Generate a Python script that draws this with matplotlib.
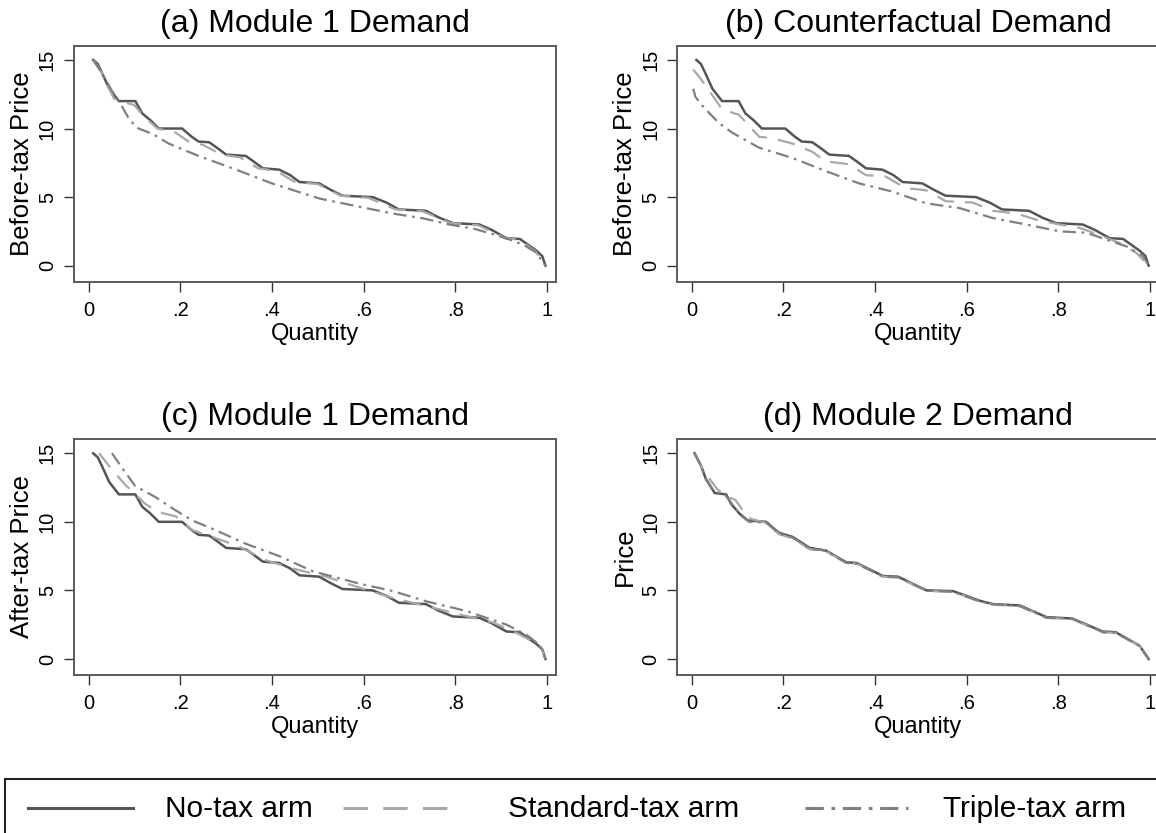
import matplotlib.pyplot as plt
from matplotlib.lines import Line2D
from matplotlib.patches import Rectangle

plt.rcParams['font.family'] = ['Liberation Sans', 'DejaVu Sans']

# quantity / price points
# module 1, no-tax arm (same in panels a, b, c)
q_none = [0.01, 0.02, 0.03, 0.045, 0.066, 0.102, 0.117, 0.135, 0.153, 0.204, 0.225, 0.24, 0.263, 0.28,
          0.30, 0.343, 0.36, 0.38, 0.416, 0.44, 0.46, 0.503, 0.53, 0.554, 0.62, 0.65, 0.677, 0.736,
          0.765, 0.795, 0.853, 0.88, 0.912, 0.941, 0.96, 0.977, 0.99, 0.997]
p_none = [15, 14.7, 14.0, 12.9, 12.0, 12.0, 11.1, 10.6, 10.0, 10.0, 9.4, 9.05, 9.0, 8.6,
          8.1, 8.0, 7.6, 7.1, 7.0, 6.6, 6.1, 6.0, 5.5, 5.1, 5.0, 4.6, 4.1, 4.0,
          3.5, 3.1, 3.0, 2.6, 2.0, 1.95, 1.5, 1.1, 0.7, 0.0]

# (a) module 1, before-tax price
q_a_std = [0.01, 0.03, 0.045, 0.055, 0.07, 0.10, 0.12, 0.15, 0.19, 0.22, 0.25, 0.29, 0.33, 0.37,
           0.41, 0.45, 0.50, 0.55, 0.61, 0.67, 0.73, 0.79, 0.85, 0.91, 0.94, 0.975, 0.997]
p_a_std = [15, 14.0, 12.9, 12.2, 12.0, 11.7, 10.9, 10.0, 9.7, 9.0, 8.8, 8.1, 7.9, 7.1,
           6.9, 6.1, 5.95, 5.1, 4.95, 4.1, 3.95, 3.1, 2.95, 2.0, 1.9, 1.05, 0.0]
q_a_tri = [0.01, 0.03, 0.05, 0.073, 0.09, 0.109, 0.14, 0.175, 0.24, 0.314, 0.40, 0.503, 0.59,
           0.664, 0.73, 0.787, 0.84, 0.882, 0.919, 0.95, 0.975, 0.997]
p_a_tri = [15, 14.0, 12.8, 11.6, 10.6, 10.0, 9.6, 8.9, 8.0, 7.1, 6.0, 4.9, 4.3,
           3.8, 3.45, 3.0, 2.7, 2.3, 1.9, 1.5, 1.0, 0.0]

# (b) counterfactual demand
q_b_std = [0.003, 0.02, 0.037, 0.066, 0.103, 0.125, 0.147, 0.175, 0.22, 0.263, 0.292, 0.343, 0.38,
           0.423, 0.467, 0.511, 0.554, 0.613, 0.657, 0.708, 0.752, 0.803, 0.847, 0.876, 0.934, 0.97, 0.997]
p_b_std = [14.3, 13.6, 12.8, 11.4, 11.0, 10.2, 9.4, 9.3, 8.9, 8.3, 7.6, 7.4, 6.6,
           6.5, 5.65, 5.5, 4.7, 4.6, 4.0, 3.8, 3.35, 3.0, 2.75, 2.4, 1.65, 0.93, 0.0]
q_b_tri = [0.003, 0.008, 0.022, 0.059, 0.088, 0.147, 0.22, 0.292, 0.365, 0.438, 0.511, 0.584,
           0.657, 0.73, 0.803, 0.861, 0.905, 0.949, 0.985, 0.997]
p_b_tri = [12.9, 12.3, 11.7, 10.4, 9.7, 8.6, 7.85, 6.9, 6.0, 5.4, 4.55, 4.2,
           3.47, 3.0, 2.5, 2.4, 1.9, 1.4, 0.68, 0.0]

# (c) module 1, after-tax price
q_c_std = [0.023, 0.051, 0.08, 0.124, 0.153, 0.19, 0.226, 0.27, 0.328, 0.387, 0.445, 0.518, 0.605,
           0.664, 0.737, 0.81, 0.883, 0.94, 0.985, 0.997]
p_c_std = [15, 13.8, 12.7, 11.3, 10.7, 10.4, 9.4, 8.9, 8.2, 7.2, 6.6, 6.0, 5.05,
           4.45, 3.85, 3.25, 2.65, 1.8, 0.97, 0.0]
q_c_tri = [0.051, 0.08, 0.102, 0.146, 0.182, 0.226, 0.27, 0.343, 0.416, 0.489, 0.59, 0.664,
           0.737, 0.824, 0.912, 0.956, 0.985, 0.997]
p_c_tri = [15, 13.6, 12.6, 11.8, 11.0, 10.1, 9.5, 8.4, 7.5, 6.4, 5.5, 4.95,
           4.2, 3.5, 2.5, 1.75, 1.0, 0.0]

# (d) module 2 demand
q_d_none = [0.006, 0.02, 0.031, 0.05, 0.075, 0.086, 0.104, 0.122, 0.162, 0.19, 0.22, 0.257, 0.293,
            0.337, 0.36, 0.417, 0.45, 0.512, 0.57, 0.628, 0.657, 0.716, 0.774, 0.83, 0.897, 0.925,
            0.977, 0.997]
p_d_none = [15, 14.1, 13.1, 12.1, 12.0, 11.3, 10.6, 10.1, 10.0, 9.2, 8.9, 8.1, 7.9,
            7.05, 7.0, 6.05, 6.0, 5.0, 4.95, 4.25, 4.0, 3.9, 3.05, 2.95, 2.0, 1.95,
            0.97, 0.0]
q_d_std = [0.006, 0.022, 0.035, 0.055, 0.08, 0.095, 0.11, 0.13, 0.165, 0.19, 0.22, 0.257, 0.293,
           0.337, 0.36, 0.417, 0.45, 0.512, 0.57, 0.628, 0.657, 0.716, 0.774, 0.83, 0.897, 0.925,
           0.977, 0.997]
p_d_std = [15, 14.0, 13.3, 12.4, 11.8, 11.6, 10.9, 10.2, 9.9, 9.1, 8.8, 8.0, 7.85,
           7.0, 6.95, 6.0, 5.95, 4.95, 4.9, 4.2, 3.95, 3.85, 3.0, 2.9, 1.95, 1.9,
           0.95, 0.0]
q_d_tri = [0.006, 0.018, 0.03, 0.048, 0.072, 0.09, 0.106, 0.125, 0.162, 0.19, 0.22, 0.257, 0.293,
           0.337, 0.36, 0.417, 0.45, 0.512, 0.57, 0.628, 0.657, 0.716, 0.774, 0.83, 0.897, 0.925,
           0.977, 0.997]
p_d_tri = [15, 14.2, 13.2, 12.2, 12.0, 11.2, 10.5, 10.0, 9.95, 9.15, 8.85, 8.05, 7.9,
           7.0, 6.95, 6.0, 5.95, 5.0, 4.9, 4.2, 4.0, 3.85, 3.0, 2.95, 1.95, 1.9,
           0.95, 0.0]

titles = ['(a) Module 1 Demand', '(b) Counterfactual Demand', '(c) Module 1 Demand', '(d) Module 2 Demand']
ylabels = ['Before-tax Price', 'Before-tax Price', 'After-tax Price', 'Price']
xticks = [0, 0.2, 0.4, 0.6, 0.8, 1]
xticklabels = ['0', '.2', '.4', '.6', '.8', '1']
yticks = [0, 5, 10, 15]
arm_names = ['No-tax arm', 'Standard-tax arm', 'Triple-tax arm']

panels = [
    [(q_none, p_none), (q_a_std, p_a_std), (q_a_tri, p_a_tri)],
    [(q_none, p_none), (q_b_std, p_b_std), (q_b_tri, p_b_tri)],
    [(q_none, p_none), (q_c_std, p_c_std), (q_c_tri, p_c_tri)],
    [(q_d_none, p_d_none), (q_d_std, p_d_std), (q_d_tri, p_d_tri)],
]

colors = ['#555555', '#a8a8a8', '#808080']
styles = ['-', (0, (8, 5)), (0, (6, 2.5, 1.2, 2.5))]
widths = [1.8, 1.6, 1.6]

W, H = 1156, 833
fig = plt.figure(figsize=(W / 100, H / 100), dpi=100)

# axes boxes in pixels: left, top
boxes = [(73.5, 45.7), (676.7, 45.7), (73.5, 439), (676.7, 439)]
aw, ah = 482.5, 236

for i, (x0, y0) in enumerate(boxes):
    ax = fig.add_axes([x0 / W, (H - y0 - ah) / H, aw / W, ah / H])
    for j, (q, p) in enumerate(panels[i]):
        ax.plot(q, p, color=colors[j], linestyle=styles[j], linewidth=widths[j])
    ax.set_xlim(-0.033, 1.02)
    ax.set_ylim(-1.17, 16.04)
    ax.set_xticks(xticks)
    ax.set_xticklabels(xticklabels)
    ax.set_yticks(yticks)
    ax.set_yticklabels([str(t) for t in yticks], rotation=90, va='center')
    ax.tick_params(axis='both', length=7, width=1, labelsize=14.5, color='#333333')
    ax.tick_params(axis='x', pad=7)
    ax.tick_params(axis='y', pad=5)
    for s in ax.spines.values():
        s.set_color('#5a5a5a')
        s.set_linewidth(1.4)
    ax.set_title(titles[i], fontsize=23, pad=10)
    ax.set_xlabel('Quantity', fontsize=17, labelpad=2)
    ax.set_ylabel(ylabels[i], fontsize=18.5, labelpad=3)

# legend box along the bottom, drawn in pixel positions
def px(x, y):
    return x / W, 1 - y / H

lx0, ly0 = px(5, 779)
fig.add_artist(Rectangle((lx0, -0.05), (W + 10) / W, ly0 + 0.05, transform=fig.transFigure,
                         facecolor='white', edgecolor='#222222', linewidth=1.5))
handle_x = [(28, 133), (343, 460), (805, 908)]
text_x = [165, 508, 943]
for j in range(3):
    (a, ya), (b, _) = px(handle_x[j][0], 808), px(handle_x[j][1], 808)
    fig.add_artist(Line2D([a, b], [ya, ya], transform=fig.transFigure, color=colors[j],
                          linestyle=styles[j], linewidth=2.2))
    tx, ty = px(text_x[j], 809)
    fig.text(tx, ty, arm_names[j], fontsize=21.5, ha='left', va='center')

fig.savefig('out.png', dpi=100)
